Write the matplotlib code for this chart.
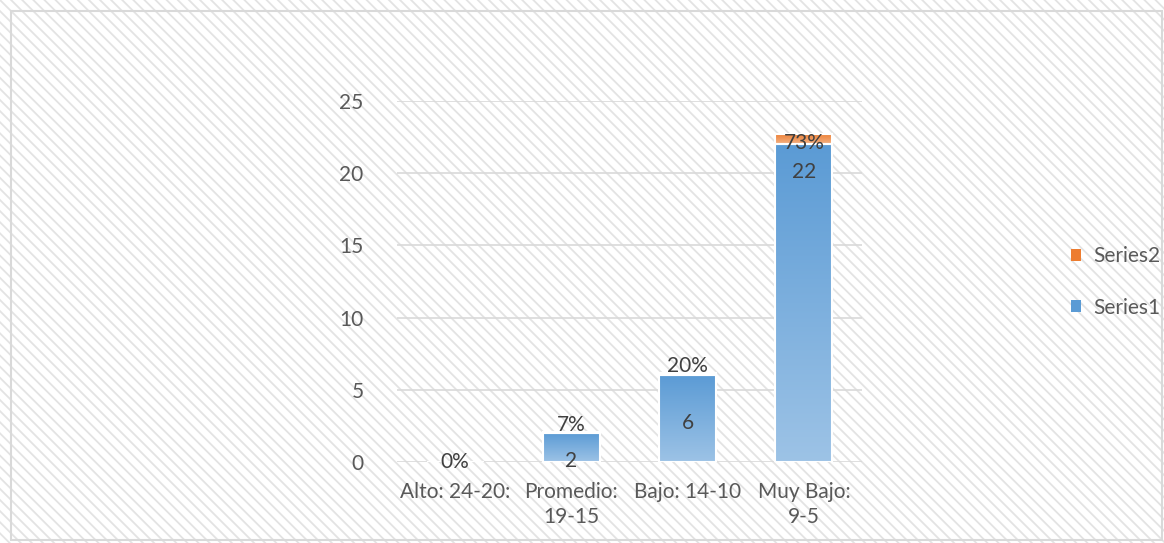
import matplotlib.pyplot as plt
import numpy as np
from matplotlib.patches import Rectangle, Patch
from matplotlib.colors import LinearSegmentedColormap

plt.rcParams['font.family'] = ['Lato', 'DejaVu Sans']
plt.rcParams['hatch.linewidth'] = 1.3

categories = ['Alto: 24-20:', 'Promedio:\n19-15', 'Bajo: 14-10', 'Muy Bajo:\n9-5']
series1 = [0, 2, 6, 22]
series2 = [0.0, 0.07, 0.20, 0.73]
series1_labels = ['', '2', '6', '22']
series2_labels = ['0%', '7%', '20%', '73%']

txt = '#595959'
grid_c = '#d9d9d9'
fs = 15

fig = plt.figure(figsize=(11.64, 5.43), dpi=100)

# patterned background and thin border
fig.patches.append(Rectangle((0, 0), 1, 1, transform=fig.transFigure, facecolor='white',
                             edgecolor='#e3e3e3', hatch='\\\\\\', linewidth=0, zorder=-10))
fig.patches.append(Rectangle((11 / 1164, 3 / 543), 1151 / 1164, 529 / 543, transform=fig.transFigure,
                             facecolor='none', edgecolor='#d9d9d9', linewidth=1.5, zorder=-9))

ax = fig.add_axes([0.341, 0.149, 0.3995, 0.665])
ax.set_facecolor('none')
x = np.arange(len(categories))
w = 0.49

blue = LinearSegmentedColormap.from_list('b', ['#9dc3e6', '#5b9bd5'])
orange = LinearSegmentedColormap.from_list('o', ['#f4b183', '#ed7d31'])
grad = np.linspace(0, 1, 256).reshape(-1, 1)


def gradient_bars(bars, cmap):
    for b in bars:
        if b.get_height() <= 0:
            continue
        x0, y0 = b.get_x(), b.get_y()
        im = ax.imshow(grad, cmap=cmap, aspect='auto', origin='lower',
                       extent=[x0, x0 + b.get_width(), y0, y0 + b.get_height()], zorder=2)
        im.set_clip_path(b)
        b.set_facecolor('none')


b1 = ax.bar(x, series1, w, color='#5b9bd5', edgecolor='white', linewidth=1.5, zorder=3)
b2 = ax.bar(x, series2, w, bottom=series1, color='#ed7d31', edgecolor='white', linewidth=1.5, zorder=3)
gradient_bars(b1, blue)
gradient_bars(b2, orange)

# data labels
lab1_y = [0, 0.07, 2.7, 20.1]
lab2_y = [0, 2.56, 6.65, 22.1]
for i in range(len(categories)):
    if series1_labels[i]:
        ax.text(x[i], lab1_y[i], series1_labels[i], ha='center', va='center', fontsize=fs, color='#404040', zorder=5)
    ax.text(x[i], lab2_y[i], series2_labels[i], ha='center', va='center', fontsize=fs, color='#404040', zorder=5)

ax.set_xlim(-0.5, 3.5)
ax.set_ylim(0, 25)
ax.set_yticks([0, 5, 10, 15, 20, 25])
ax.set_xticks(x)
ax.set_xticklabels(categories, linespacing=1.35)
ax.tick_params(axis='both', length=0, labelsize=fs, labelcolor=txt)
ax.tick_params(axis='y', pad=24)
ax.tick_params(axis='x', pad=14)
ax.grid(axis='y', color=grid_c, linewidth=1.2, zorder=0)
ax.set_axisbelow(True)
for s in ax.spines.values():
    s.set_visible(False)

handles = [Patch(facecolor='#ed7d31', label='Series2'), Patch(facecolor='#5b9bd5', label='Series1')]
fig.legend(handles=handles, loc='center left', bbox_to_anchor=(1052 / 1164, 1 - 282 / 543), frameon=False,
           fontsize=fs, labelcolor=txt, handlelength=0.5, handleheight=0.5, handletextpad=0.6,
           labelspacing=1.5)

fig.savefig('out.png', dpi=100)
